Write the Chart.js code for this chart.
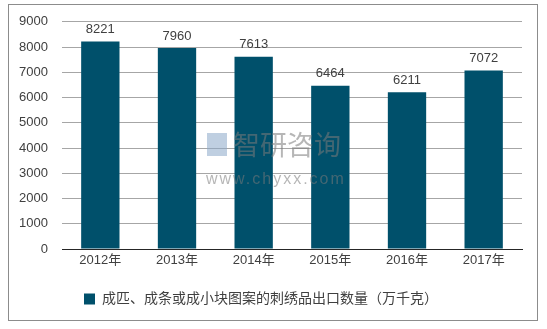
<!DOCTYPE html>
<html><head><meta charset="utf-8">
<script src="https://cdn.jsdelivr.net/npm/chart.js@4/dist/chart.umd.min.js"></script>
<style>html,body{margin:0;padding:0;background:#fff;}#wrap{width:547px;height:329px;position:relative;}</style>
</head><body><div id="wrap"><canvas id="c" width="547" height="329"></canvas></div>
<script>
const categories = ['2012年','2013年','2014年','2015年','2016年','2017年'];
const values = [8221, 7960, 7613, 6464, 6211, 7072];
const seriesName = '成匹、成条或成小块图案的刺绣品出口数量（万千克）';
const yTicks = [0,1000,2000,3000,4000,5000,6000,7000,8000,9000];

const FONT = '"Liberation Sans", Arial, "Noto Sans CJK SC", sans-serif';
const BAR = '#00506b';
const TXT = '#404040';

const decor = {
  id: 'decor',
  beforeDraw(chart){
    const ctx = chart.ctx;
    ctx.save();
    ctx.fillStyle = '#fff';
    ctx.fillRect(0,0,chart.width,chart.height);
    ctx.strokeStyle = '#8c8c8c';
    ctx.lineWidth = 1;
    ctx.strokeRect(8.5, 4.5, 529, 316);
    ctx.restore();
  },
  afterDatasetsDraw(chart){
    const ctx = chart.ctx;
    const meta = chart.getDatasetMeta(0);
    ctx.save();
    ctx.fillStyle = TXT;
    ctx.font = '13px ' + FONT;
    ctx.textAlign = 'center';
    ctx.textBaseline = 'middle';
    meta.data.forEach((bar,i)=>{
      ctx.fillText(String(values[i]), bar.x, bar.y - 12);
    });
    // watermark
    ctx.globalAlpha = 0.55;
    ctx.fillStyle = '#8aa7c8';
    ctx.fillRect(207, 133, 20, 23);
    ctx.fillStyle = '#7a7a7a';
    ctx.font = '27px "Noto Sans CJK SC", sans-serif';
    ctx.textAlign = 'left';
    ctx.fillText('智研咨询', 233, 145);
    ctx.font = '16px ' + FONT;
    if ('letterSpacing' in ctx) ctx.letterSpacing = '2px';
    ctx.fillText('www.chyxx.com', 206, 180);
    ctx.restore();
  }
};

new Chart(document.getElementById('c'), {
  type: 'bar',
  data: {
    labels: categories,
    datasets: [{
      label: seriesName,
      data: values,
      backgroundColor: BAR,
      borderWidth: 0,
      categoryPercentage: 1.0,
      barPercentage: 0.5
    }]
  },
  options: {
    responsive: false,
    animation: false,
    devicePixelRatio: 1,
    layout: { padding: { top: 19, right: 25, bottom: 13, left: 0 } },
    plugins: {
      tooltip: { enabled: false },
      legend: {
        position: 'bottom',
        labels: {
          color: TXT,
          font: { size: 14, family: FONT },
          boxWidth: 11, boxHeight: 11,
          padding: 10
        }
      }
    },
    scales: {
      x: {
        grid: { display: false, drawTicks: false },
        border: { display: true, color: '#262626', width: 1 },
        ticks: { color: TXT, font: { size: 13, family: FONT }, padding: 4, maxRotation: 0 },
        afterFit(s){ s.height = 33; }
      },
      y: {
        min: 0, max: 9000,
        afterBuildTicks(s){ s.ticks = yTicks.map(v=>({value:v})); },
        grid: { color: '#a6a6a6', drawTicks: false, lineWidth: 1 },
        border: { display: false },
        ticks: { color: TXT, font: { size: 13, family: FONT }, padding: 14, callback: v => String(v) },
        afterFit(s){ s.width = 62; }
      }
    }
  },
  plugins: [decor]
});
</script>
</body></html>
